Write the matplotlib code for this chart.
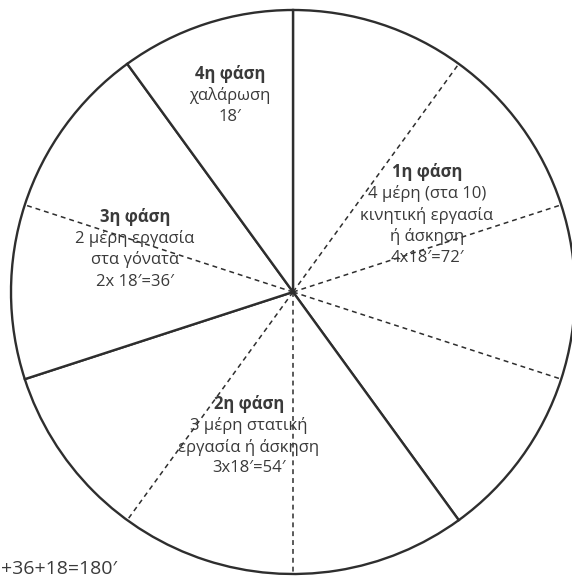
import matplotlib
matplotlib.use("Agg")
import matplotlib.pyplot as plt
import numpy as np

# ---- data ----
phase_names = ["1η φάση", "2η φάση", "3η φάση", "4η φάση"]
phase_parts = [4, 3, 2, 1]          # number of 18' parts per phase
part_minutes = 18
phase_minutes = [p * part_minutes for p in phase_parts]   # 72, 54, 36, 18
phase_body = [
    ["4 μέρη (στα 10)", "κινητική εργασία", "ή άσκηση", "4x18′=72′"],
    ["3 μέρη στατική", "εργασία ή άσκηση", "3x18′=54′"],
    ["2 μέρη εργασία", "στα γόνατα", "2x 18′=36′"],
    ["χαλάρωση", "18′"],
]
total_text = "+36+18=180′"

# ---- layout (pixel coords, y from top) ----
W, H = 572, 578
cx, cy_top, R = 293, 292, 282
cy = H - cy_top
label_pos = [(427, 172), (249, 404), (135, 217), (230, 74)]
line_step = 21.5
ink = "#2e2e2e"
txt = "#3a3a3a"
plt.rcParams["font.family"] = ["Open Sans", "DejaVu Sans"]

fig = plt.figure(figsize=(W / 100, H / 100), dpi=100)
ax = fig.add_axes([0, 0, 1, 1])

ax.pie(phase_minutes, startangle=90, counterclock=False, center=(cx, cy), radius=R,
       wedgeprops=dict(facecolor="white", edgecolor=ink, linewidth=1.7))

# dashed subdivisions inside each phase
total = sum(phase_minutes)
acc = 0
for m in phase_minutes:
    for k in range(1, m // part_minutes):
        ang = np.deg2rad(90 - 360 * (acc + k * part_minutes) / total)
        ax.plot([cx, cx + R * np.cos(ang)], [cy, cy + R * np.sin(ang)],
                color=ink, lw=1.1, linestyle=(0, (3.2, 2.6)))
    acc += m

for name, body, (x, y) in zip(phase_names, phase_body, label_pos):
    ax.text(x, H - y, name, ha="center", va="center", fontsize=12,
            fontweight="bold", color=txt)
    for i, line in enumerate(body):
        ax.text(x, H - (y + line_step * (i + 1)), line, ha="center", va="center",
                fontsize=12, color=txt)

ax.text(1, H - 569, total_text, ha="left", va="center", fontsize=14, color=txt)

ax.set_xlim(0, W)
ax.set_ylim(0, H)
ax.set_aspect("auto")
ax.axis("off")
fig.savefig("out.png", dpi=100, facecolor="white")
